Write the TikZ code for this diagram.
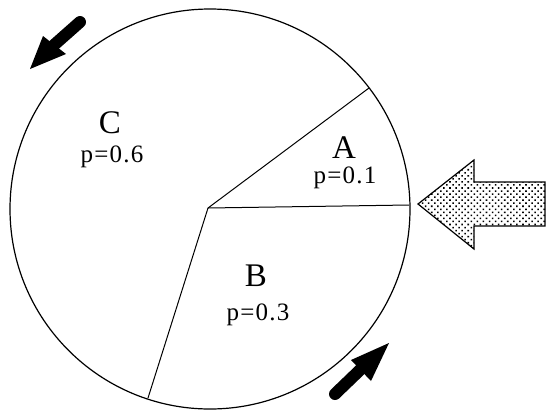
\documentclass[tikz,border=0pt]{standalone}
\usepackage{fontspec}
\setmainfont{Liberation Serif}
\usetikzlibrary{patterns.meta}
\tikzset{
  rim/.style={line width=1.2pt},
  seg/.style={line width=1pt},
  biglabel/.style={inner sep=0pt, font=\fontsize{33}{33}\selectfont},
  plabel/.style={inner sep=0pt, font=\fontsize{25}{25}\selectfont\addfontfeature{LetterSpace=5}},
  blackshaft/.style={line width=12pt, line cap=round},
  blackhead/.style={fill=black, draw=none},
  blockarrow/.style={draw, line width=1.2pt, pattern={Dots[distance=4.3pt, angle=45, radius=1.1pt]}}
}
\begin{document}
\begin{tikzpicture}[x=1pt,y=-1pt]
\useasboundingbox (0,0) rectangle (548,413);
% wheel
\coordinate (O) at (210,209);
\draw[rim] (O) circle[radius=200];
\coordinate (ctr) at (208,208);
\coordinate (eAB) at (409,205);
\coordinate (eAC) at (369,88);
\coordinate (eBC) at (148,398);
\draw[seg] (ctr) -- (eAB);
\draw[seg] (ctr) -- (eAC);
\draw[seg] (ctr) -- (eBC);
% labels
\node[biglabel] (lC) at (110,123) {C};
\node[plabel] (pC) at (112,157) {p=0.6};
\node[biglabel] (lA) at (344,148) {A};
\node[plabel] (pA) at (345,178) {p=0.1};
\node[biglabel] (lB) at (256,276) {B};
\node[plabel] (pB) at (258,315) {p=0.3};
% black arrows
\coordinate (t1) at (80,22);
\coordinate (b1) at (54,45);
\draw[blackshaft] (t1) -- (b1);
\fill[blackhead] (30,69) -- (43,36) -- (66,54) -- cycle;
\coordinate (t2) at (335,394);
\coordinate (b2) at (361,369);
\draw[blackshaft] (t2) -- (b2);
\fill[blackhead] (389,343) -- (351,360) -- (371,381) -- cycle;
% dotted block arrow
\draw[blockarrow] (418,204) -- (474,160) -- (474,182) -- (545,182) -- (545,226) -- (474,226) -- (474,249) -- cycle;
\end{tikzpicture}
\end{document}
